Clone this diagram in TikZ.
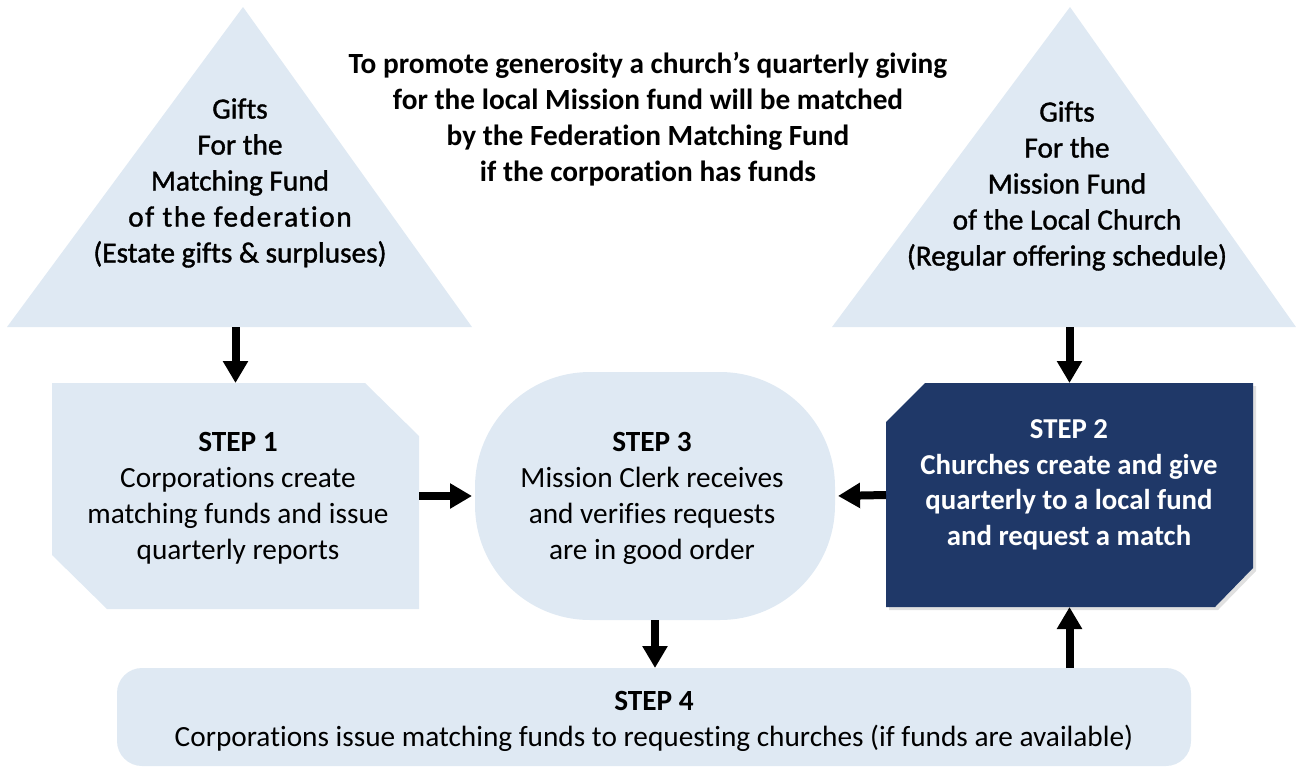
\documentclass[tikz,border=0pt]{standalone}
\usepackage{fontspec}
\setmainfont{Carlito}[Ligatures=NoCommon]
\newfontfamily\medfont{Carlito}[FakeBold=1.2,Ligatures=NoCommon]
\newfontfamily\medspfont{Carlito}[FakeBold=1.2,LetterSpace=5.5,Ligatures=NoCommon]
\usetikzlibrary{arrows.meta}
\definecolor{lightfill}{HTML}{DFE9F3}
\definecolor{navy}{HTML}{1F3868}
\tikzset{
  frame/.style={inner sep=0pt, outer sep=0pt},
  txt/.style={align=center, font=\fontsize{29.3}{36}\selectfont, inner sep=0pt},
  arr/.style={line width=8pt, -{Triangle[width=24pt,length=22pt]}, black},
}
\begin{document}
\begin{tikzpicture}[x=1pt,y=-1pt]
\useasboundingbox (0,0) rectangle (1296,766);

% triangles
\fill[lightfill] (243,7) -- (472,327) -- (7,327) -- cycle;
\fill[lightfill] (1070,7) -- (1296,327) -- (832,327) -- cycle;
\coordinate (t1) at (235.5,327);
\coordinate (t2) at (1069.5,327);
\node[txt] (t1txt) at (240,183) {\medfont Gifts\\\medfont For the\\\medfont Matching Fund\\\medspfont of the federation\\\medfont (Estate gifts \& surpluses)};
\node[txt] (t2txt) at (1067,186) {\medfont Gifts\\\medfont For the\\\medfont Mission Fund\\\medfont of the Local Church\\\medfont (Regular offering schedule)};

% title
\node[txt, font=\fontsize{29.3}{36}\selectfont\bfseries] (title) at (648,119) {To promote generosity a church’s quarterly giving\\for the local Mission fund will be matched\\by the Federation Matching Fund\\if the corporation has funds};

% step 1
\node[frame, minimum width=367pt, minimum height=226pt] (s1) at (235.5,496) {};
\fill[lightfill] (s1.north west) -- ([xshift=-54pt]s1.north east) -- ([yshift=-53pt]s1.north east) -- (s1.south east) -- ([xshift=55pt]s1.south west) -- ([yshift=54pt]s1.south west) -- cycle;
\node[txt] (s1txt) at (238,498) {\textbf{STEP 1}\\Corporations create\\matching funds and issue\\quarterly reports};

% step 2
\node[frame, minimum width=367pt, minimum height=224pt] (s2) at (1069.5,495) {};
\fill[black, opacity=0.12] ([xshift=3pt,yshift=-3pt]s2.north west) ++(0,39) -- ++(39,-39) -- ([xshift=3pt,yshift=-3pt]s2.north east) -- ([xshift=3pt,yshift=-3pt+39pt]s2.south east) -- ++(-38,39) -- ([xshift=3pt,yshift=-3pt]s2.south west) -- cycle;
\fill[navy] ([yshift=-39pt]s2.north west) -- ([xshift=39pt]s2.north west) -- (s2.north east) -- ([yshift=39pt]s2.south east) -- ([xshift=-38pt]s2.south east) -- (s2.south west) -- cycle;
\node[txt, text=white, font=\fontsize{28.8}{35.5}\selectfont\bfseries] (s2txt) at (1069,485) {STEP 2\\Churches create and give\\quarterly to a local fund\\and request a match};

% step 3
\node[frame, fill=lightfill, rounded corners=115pt, minimum width=360pt, minimum height=248pt] (s3) at (655,496) {};
\node[txt] (s3txt) at (652,498) {\textbf{STEP 3}\\Mission Clerk receives\\and verifies requests\\are in good order};

% step 4
\node[frame, fill=lightfill, rounded corners=25pt, minimum width=1074pt, minimum height=98pt] (s4) at (654,717) {};
\node[txt] (s4txt) at (654,721) {\textbf{STEP 4}\\Corporations issue matching funds to requesting churches (if funds are available)};

% arrows
\draw[arr] (t1) -- (t1 |- s1.north);
\draw[arr] (t2) -- (t2 |- s2.north);
\draw[arr, shorten >=3pt] (s1.east) -- (s3.west);
\draw[arr, shorten >=3pt] (s2.west) -- (s3.west -| s3.east);
\draw[arr] (s3.south) -- (s3.south |- s4.north);
\draw[arr] (s4.north -| s2.south) -- (s2.south);
\end{tikzpicture}
\end{document}
